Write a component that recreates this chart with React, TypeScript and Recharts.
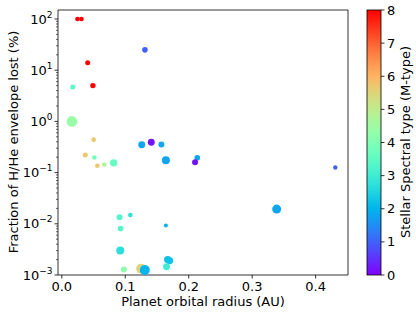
import { ScatterChart, Scatter, XAxis, YAxis, ZAxis, Cell, ReferenceArea } from 'recharts'

// orbital radius (AU)
const orbitalRadius = [
  0.0246, 0.031, 0.131, 0.0408, 0.0173, 0.049, 0.016, 0.0502, 0.037, 0.0513, 0.056,
  0.067, 0.0816, 0.126, 0.141, 0.157, 0.164, 0.2135, 0.21, 0.431, 0.3386, 0.091,
  0.108, 0.164, 0.0926, 0.0921, 0.1669, 0.17, 0.165, 0.0978, 0.125, 0.1308,
]
// fraction of H/He envelope lost (%)
const envelopeLost = [
  100, 100, 25, 14, 4.7, 5.0, 1.0, 0.44, 0.22, 0.197, 0.136,
  0.144, 0.155, 0.35, 0.39, 0.355, 0.175, 0.195, 0.16, 0.126, 0.0194, 0.0135,
  0.0148, 0.0093, 0.0081, 0.003, 0.002, 0.0019, 0.00145, 0.00128, 0.00132, 0.00125,
]
// stellar spectral type (M0..M8)
const spectralType = [
  8, 8, 1, 8, 3.4, 8, 4.4, 5.7, 5.7, 3.8, 5.7,
  4.8, 3.6, 1.8, 0.2, 1.8, 1.8, 1.8, 0.2, 1.0, 1.8, 3.3,
  2.8, 2.0, 3.3, 2.7, 2.2, 2.2, 3.0, 4.2, 5.5, 2.0,
]
// marker size (planet size)
const planetSize = [
  17, 17, 25, 20, 20, 23, 88, 17, 20, 17, 17,
  17, 43, 38, 38, 28, 50, 25, 28, 15, 64, 28,
  17, 13, 25, 50, 43, 38, 38, 28, 78, 78,
]

const xTicks = [0, 0.1, 0.2, 0.3, 0.4]
const cbarTicks = [0, 1, 2, 3, 4, 5, 6, 7, 8]

const yTicks: number[] = []
for (let d = -3; d <= 2; d++) {
  for (let k = 1; k <= 9; k++) {
    const v = k * Math.pow(10, d)
    if (v <= 150) yTicks.push(Number(v.toPrecision(3)))
  }
}

const data = orbitalRadius.map((r, i) => ({
  r,
  lost: envelopeLost[i],
  spec: spectralType[i],
  size: planetSize[i],
}))

const FONT = '"DejaVu Sans", sans-serif'

// matplotlib "rainbow" colormap
function rainbow(t: number) {
  const c = (v: number) => Math.round(Math.min(1, Math.max(0, v)) * 255)
  const r = Math.abs(2 * t - 0.5)
  const g = Math.sin(Math.PI * t)
  const b = Math.cos((Math.PI * t) / 2)
  return `rgb(${c(r)},${c(g)},${c(b)})`
}

const YTick = (props: any) => {
  const { x, y, payload } = props
  const lg = Math.log10(payload.value)
  const major = Math.abs(lg - Math.round(lg)) < 1e-6
  if (!major) {
    return <line x1={x - 2} x2={x} y1={y} y2={y} stroke="#000" strokeWidth={0.6} />
  }
  const exp = Math.round(lg)
  const expText = exp < 0 ? `\u2212${-exp}` : `${exp}`
  return (
    <g>
      <line x1={x - 3.5} x2={x} y1={y} y2={y} stroke="#000" strokeWidth={0.8} />
      <text x={x - 5.5} y={y + 4.5} textAnchor="end" fontSize={13} fontFamily={FONT} fill="#000">
        <tspan>10</tspan>
        <tspan dy={-6} fontSize={9}>{expText}</tspan>
      </text>
    </g>
  )
}

const cbTop = 10
const cbBottom = 275
const cbLeft = 367
const cbWidth = 14

function ColorBar() {
  const stops = Array.from({ length: 21 }, (_, i) => i / 20)
  return (
    <svg width={416} height={316} style={{ position: 'absolute', left: 0, top: 0, pointerEvents: 'none' }}>
      <defs>
        <linearGradient id="cbar" x1="0" y1="1" x2="0" y2="0">
          {stops.map((s) => (
            <stop key={s} offset={s} stopColor={rainbow(s)} />
          ))}
        </linearGradient>
      </defs>
      <rect x={cbLeft} y={cbTop} width={cbWidth} height={cbBottom - cbTop} fill="url(#cbar)" stroke="#000" strokeWidth={0.8} />
      {cbarTicks.map((v) => {
        const y = cbBottom - (v / 8) * (cbBottom - cbTop)
        return (
          <g key={v}>
            <line x1={cbLeft + cbWidth} x2={cbLeft + cbWidth + 3.5} y1={y} y2={y} stroke="#000" strokeWidth={0.8} />
            <text x={cbLeft + cbWidth + 6} y={y + 4.5} fontSize={13} fontFamily={FONT} fill="#000">
              {v}
            </text>
          </g>
        )
      })}
      <text
        x={405}
        y={142}
        transform="rotate(-90 405 142)"
        textAnchor="middle"
        dominantBaseline="central"
        fontSize={13}
        fontFamily={FONT}
        fill="#000"
      >
        Stellar Spectral type (M-type)
      </text>
    </svg>
  )
}

export default function App() {
  return (
    <div style={{ position: 'absolute', left: 0, top: 0, width: 416, height: 316, background: '#fff' }}>
      <ScatterChart width={416} height={316} margin={{ top: 10, right: 68, left: 0, bottom: 0 }}>
        <XAxis
          type="number"
          dataKey="r"
          domain={[-0.006, 0.451]}
          ticks={xTicks}
          interval={0}
          allowDataOverflow
          tickFormatter={(v: number) => v.toFixed(1)}
          height={41}
          axisLine={false}
          tickLine={{ stroke: '#000', strokeWidth: 0.8 }}
          tickSize={3.5}
          tickMargin={3}
          tick={{ fill: '#000', fontSize: 13, fontFamily: FONT }}
          label={{
            content: () => (
              <text x={203} y={306} textAnchor="middle" fontSize={13} fontFamily={FONT} fill="#000">
                Planet orbital radius (AU)
              </text>
            ),
          }}
        />
        <YAxis
          type="number"
          dataKey="lost"
          scale="log"
          domain={[0.001, 150]}
          ticks={yTicks}
          interval={0}
          allowDataOverflow
          width={58}
          axisLine={false}
          tickLine={false}
          tickSize={0}
          tickMargin={0}
          tick={<YTick />}
          label={{
            content: () => (
              <text
                x={13}
                y={142}
                transform="rotate(-90 13 142)"
                textAnchor="middle"
                dominantBaseline="central"
                fontSize={13}
                fontFamily={FONT}
                fill="#000"
              >
                Fraction of H/He envelope lost (%)
              </text>
            ),
          }}
        />
        <ZAxis type="number" dataKey="size" domain={[0, 100]} range={[0, 100]} />
        <Scatter data={data} isAnimationActive={false}>
          {data.map((d, i) => (
            <Cell key={i} fill={rainbow(d.spec / 8)} />
          ))}
        </Scatter>
        <ReferenceArea x1={-0.006} x2={0.451} y1={0.001} y2={150} fill="none" stroke="#000" strokeWidth={0.8} ifOverflow="visible" />
      </ScatterChart>
      <ColorBar />
    </div>
  )
}
